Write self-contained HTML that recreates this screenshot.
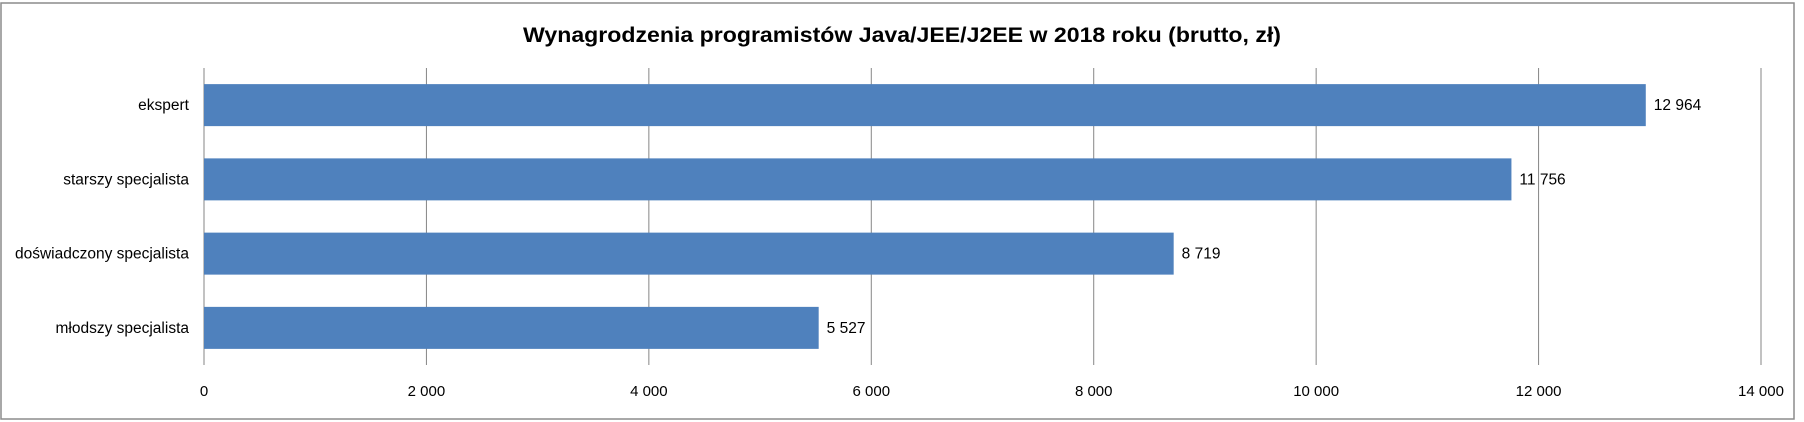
<!DOCTYPE html>
<html><head><meta charset="utf-8"><style>
html,body{margin:0;padding:0;background:#fff;}
svg{display:block;font-family:"Liberation Sans",sans-serif;}
</style></head><body>
<svg id="chart" width="1804" height="422">
<rect x="1" y="3" width="1793" height="416" fill="#fff" stroke="#8c8c8c" stroke-width="1.5"/>
<text x="902" y="42" text-anchor="middle" font-size="21" font-weight="bold" fill="#000" textLength="758" lengthAdjust="spacingAndGlyphs">Wynagrodzenia programistów Java/JEE/J2EE w 2018 roku (brutto, zł)</text>
<g id="grid"></g><g id="bars"></g><g id="labels"></g>
</svg>
<script>
const categories = ["ekspert","starszy specjalista","doświadczony specjalista","młodszy specjalista"];
const values = [12964, 11756, 8719, 5527];
const valueLabels = ["12 964","11 756","8 719","5 527"];
const ticks = [0,2000,4000,6000,8000,10000,12000,14000];
const tickLabels = ["0","2 000","4 000","6 000","8 000","10 000","12 000","14 000"];
const NS="http://www.w3.org/2000/svg";
const X0=204,X1=1761,Y0=68,Y1=365,XMAX=14000;
const xs=v=>X0+(v/XMAX)*(X1-X0);
const band=(Y1-Y0)/categories.length;
const yc=i=>Y0+band*(i+0.5);
function mk(t,a,p){const e=document.createElementNS(NS,t);for(const k in a)e.setAttribute(k,a[k]);p.appendChild(e);return e;}
const g=document.getElementById('grid'),b=document.getElementById('bars'),l=document.getElementById('labels');
ticks.forEach((t,i)=>{
  const ln=mk('line',{x1:xs(t),x2:xs(t),y1:Y0,y2:Y1,stroke:'#868686','stroke-width':1},g);
  
  
  const tx=mk('text',{x:xs(t),y:396,'text-anchor':'middle','font-size':15,fill:'#000'},l);
  tx.textContent=tickLabels[i];
  
  
});
categories.forEach((c,i)=>{
  const r=mk('rect',{x:X0,y:yc(i)-21,width:xs(values[i])-X0,height:42,fill:'#4F81BD'},b);
  
  
  const ct=mk('text',{x:189,y:yc(i)+5,'text-anchor':'end','font-size':15.5,fill:'#000'},l);
  ct.textContent=c;
  
  
  const vt=mk('text',{x:xs(values[i])+8,y:yc(i)+5,'font-size':15.5,fill:'#000'},l);
  vt.textContent=valueLabels[i];
  
  
});
</script>
</body></html>
